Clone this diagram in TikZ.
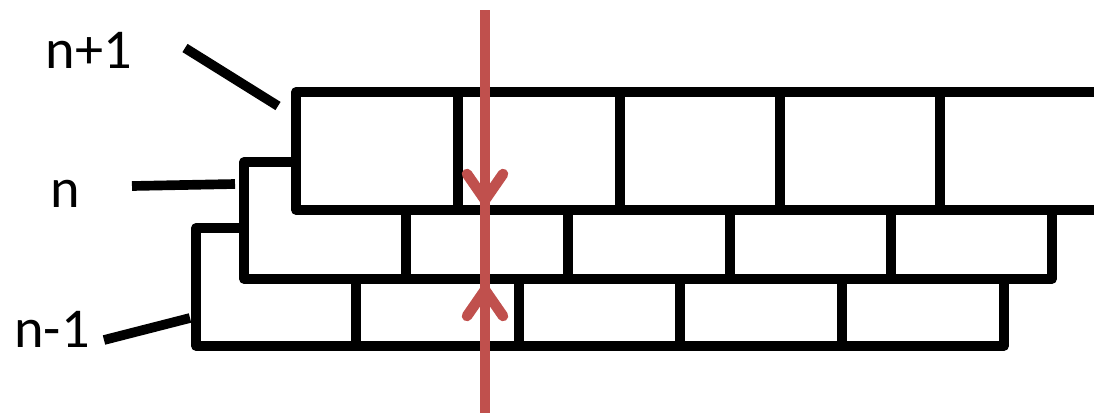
\documentclass[tikz,border=0pt]{standalone}
\usepackage{fontspec}
\setmainfont{Carlito}
\usepackage{tikz}

\definecolor{cutred}{HTML}{C0504D}

\begin{document}
\begin{tikzpicture}[
  x=0.02cm, y=-0.02cm,
  every node/.style={inner sep=0pt, anchor=base, font=\fontsize{32}{38}\selectfont},
  brick/.style={line width=5.5pt, line join=round},
  leader/.style={line width=5.5pt},
  cutline/.style={draw=cutred, line width=6pt},
  chevron/.style={cutline, line cap=round, line join=round}
]
\useasboundingbox (0,0) rectangle (1094,413);

% layer labels
\node (upper) at (89,68) {n+1};
\node (middle) at (65,207) {n};
\node (lower) at (52,347) {n-1};

% layer n+1
\draw[brick] (1094,92) -- (296,92) -- (296,210) -- (1094,210);
\draw[brick] (458,92) -- (458,210) (620,92) -- (620,210)
  (780,92) -- (780,210) (940,92) -- (940,210);

% layer n
\draw[brick] (296,162) -- (244,162) -- (244,279) -- (1052,279) -- (1052,210);
\draw[brick] (406,210) -- (406,279) (568,210) -- (568,279)
  (730,210) -- (730,279) (891,210) -- (891,279);

% layer n-1
\draw[brick] (244,228) -- (196,228) -- (196,346) -- (1004,346) -- (1004,279);
\draw[brick] (356,279) -- (356,346) (519,279) -- (519,346)
  (680,279) -- (680,346) (842,279) -- (842,346);

% leader lines
\coordinate (upperfrom) at (185,48);
\coordinate (upperto) at (278,106);
\coordinate (middlefrom) at (132,186);
\coordinate (middleto) at (235,184);
\coordinate (lowerfrom) at (104,340);
\coordinate (lowerto) at (190,318);
\draw[leader] (upperfrom) -- (upperto);
\draw[leader] (middlefrom) -- (middleto);
\draw[leader] (lowerfrom) -- (lowerto);

% cut line with its two arrowheads
\coordinate (cuttop) at (485,10);
\coordinate (cutbottom) at (485,413);
\coordinate (tipdown) at (485,200);
\coordinate (tipup) at (485,290);
\draw[cutline] (cuttop) -- (cutbottom);
\draw[chevron] (467,174) -- (tipdown) -- (503,174);
\draw[chevron] (467,316) -- (tipup) -- (503,316);

\end{tikzpicture}
\end{document}
